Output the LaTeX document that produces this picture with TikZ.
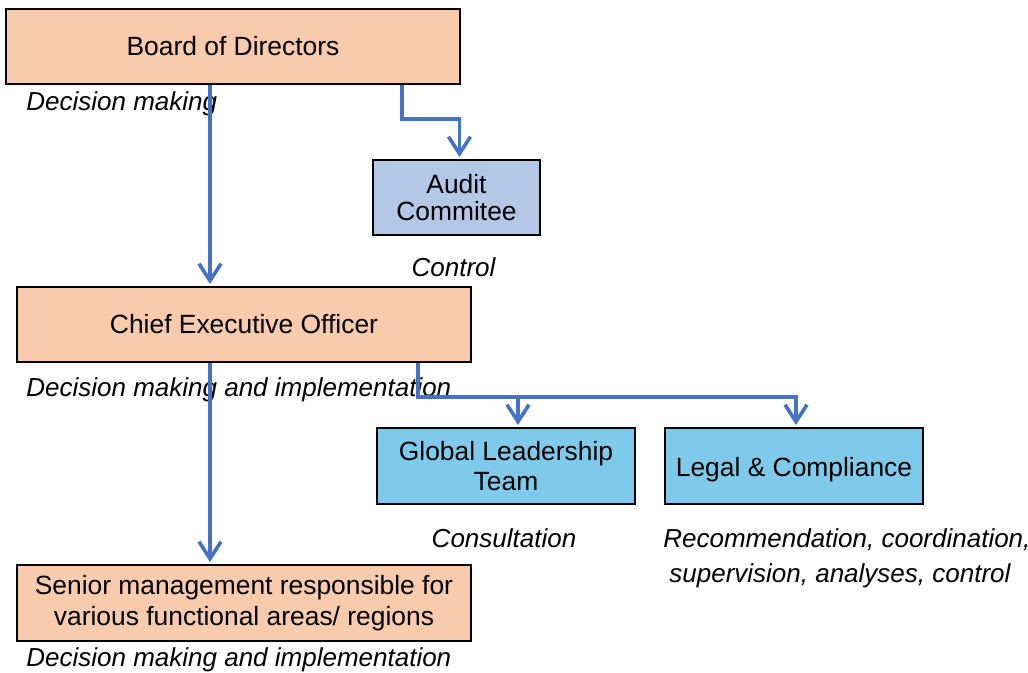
\documentclass[tikz,border=0pt]{standalone}
\usepackage{fontspec}
\setmainfont{Liberation Sans}
\usepackage{tikz}
\usetikzlibrary{arrows.meta}
\usetikzlibrary{positioning}
\definecolor{peach}{RGB}{248,203,173}
\definecolor{steel}{RGB}{180,199,231}
\definecolor{sky}{RGB}{127,202,234}
\definecolor{link}{RGB}{68,114,196}
\tikzset{>={Straight Barb[length=8.5pt,width=11pt]}}

\begin{document}
\begin{tikzpicture}[x=0.5pt,y=-0.5pt,
    box/.style={draw=black,line width=1pt,align=center,inner sep=0pt,
      font=\fontsize{13.2}{15.2}\selectfont},
    note/.style={inner sep=0pt,font=\fontsize{13}{17.5}\selectfont\itshape},
    conn/.style={draw=link,line width=1.8pt,shorten >=1pt}]
    \useasboundingbox (0,0) rectangle (1028,673);

    \node (bod) [box,fill=peach,minimum width=227pt,minimum height=37.5pt] at (233,46.5) {Board of Directors};
    \node (audit) [box,fill=steel,minimum width=83.5pt,minimum height=37.5pt] at (456.5,197.5) {Audit\\[-2pt]Commitee};
    \node (ceo) [box,fill=peach,minimum width=227pt,minimum height=37.5pt] at (244,324.5) {Chief Executive Officer};
    \node (glt) [box,fill=sky,minimum width=129pt,minimum height=38pt] at (506,466) {Global Leadership\\Team};
    \node (legal) [box,fill=sky,minimum width=129pt,minimum height=38pt] at (794,466) {\rule{0pt}{13pt}Legal \& Compliance};
    \node (senior) [box,fill=peach,minimum width=227pt,minimum height=38pt] at (244,603) {Senior management responsible for\\various functional areas/ regions};

    \node (bodnote) [note,anchor=west] at (26,104) {Decision making};
    \node (auditnote) [note] at (453.5,267) {Control};
    \node (ceonote) [note,anchor=west] at (26,390) {Decision making and implementation};
    \node (gltnote) [note] at (504,538) {Consultation};
    \node (legalnote) [note,anchor=north west,align=left] at (663,528) {Recommendation, coordination,\\\hspace{3pt}supervision, analyses, control};
    \node (seniornote) [note,anchor=west] at (26,660) {Decision making and implementation};

    \coordinate (bodout) at ([xshift=-11.5pt]bod.south);
    \coordinate (auditout) at ([xshift=84.5pt]bod.south);
    \coordinate (auditin) at ([xshift=1.5pt]audit.north);
    \coordinate (ceoout) at ([xshift=-17pt]ceo.south);
    \coordinate (bus) at ([xshift=87pt,yshift=-17pt]ceo.south);
    \coordinate (gltin) at ([xshift=6pt]glt.north);
    \coordinate (legalin) at ([xshift=1pt]legal.north);

    \draw[conn,->] (bodout) -- (bodout |- ceo.north);
    \draw[conn,->] (auditout) -- ++(0,34) -| (auditin);
    \draw[conn,->] (ceoout) -- (ceoout |- senior.north);
    \draw[conn,->] (bus |- ceo.south) -- (bus) -| (legalin);
    \draw[conn,->] (bus -| gltin) -- (gltin);
\end{tikzpicture}
\end{document}
